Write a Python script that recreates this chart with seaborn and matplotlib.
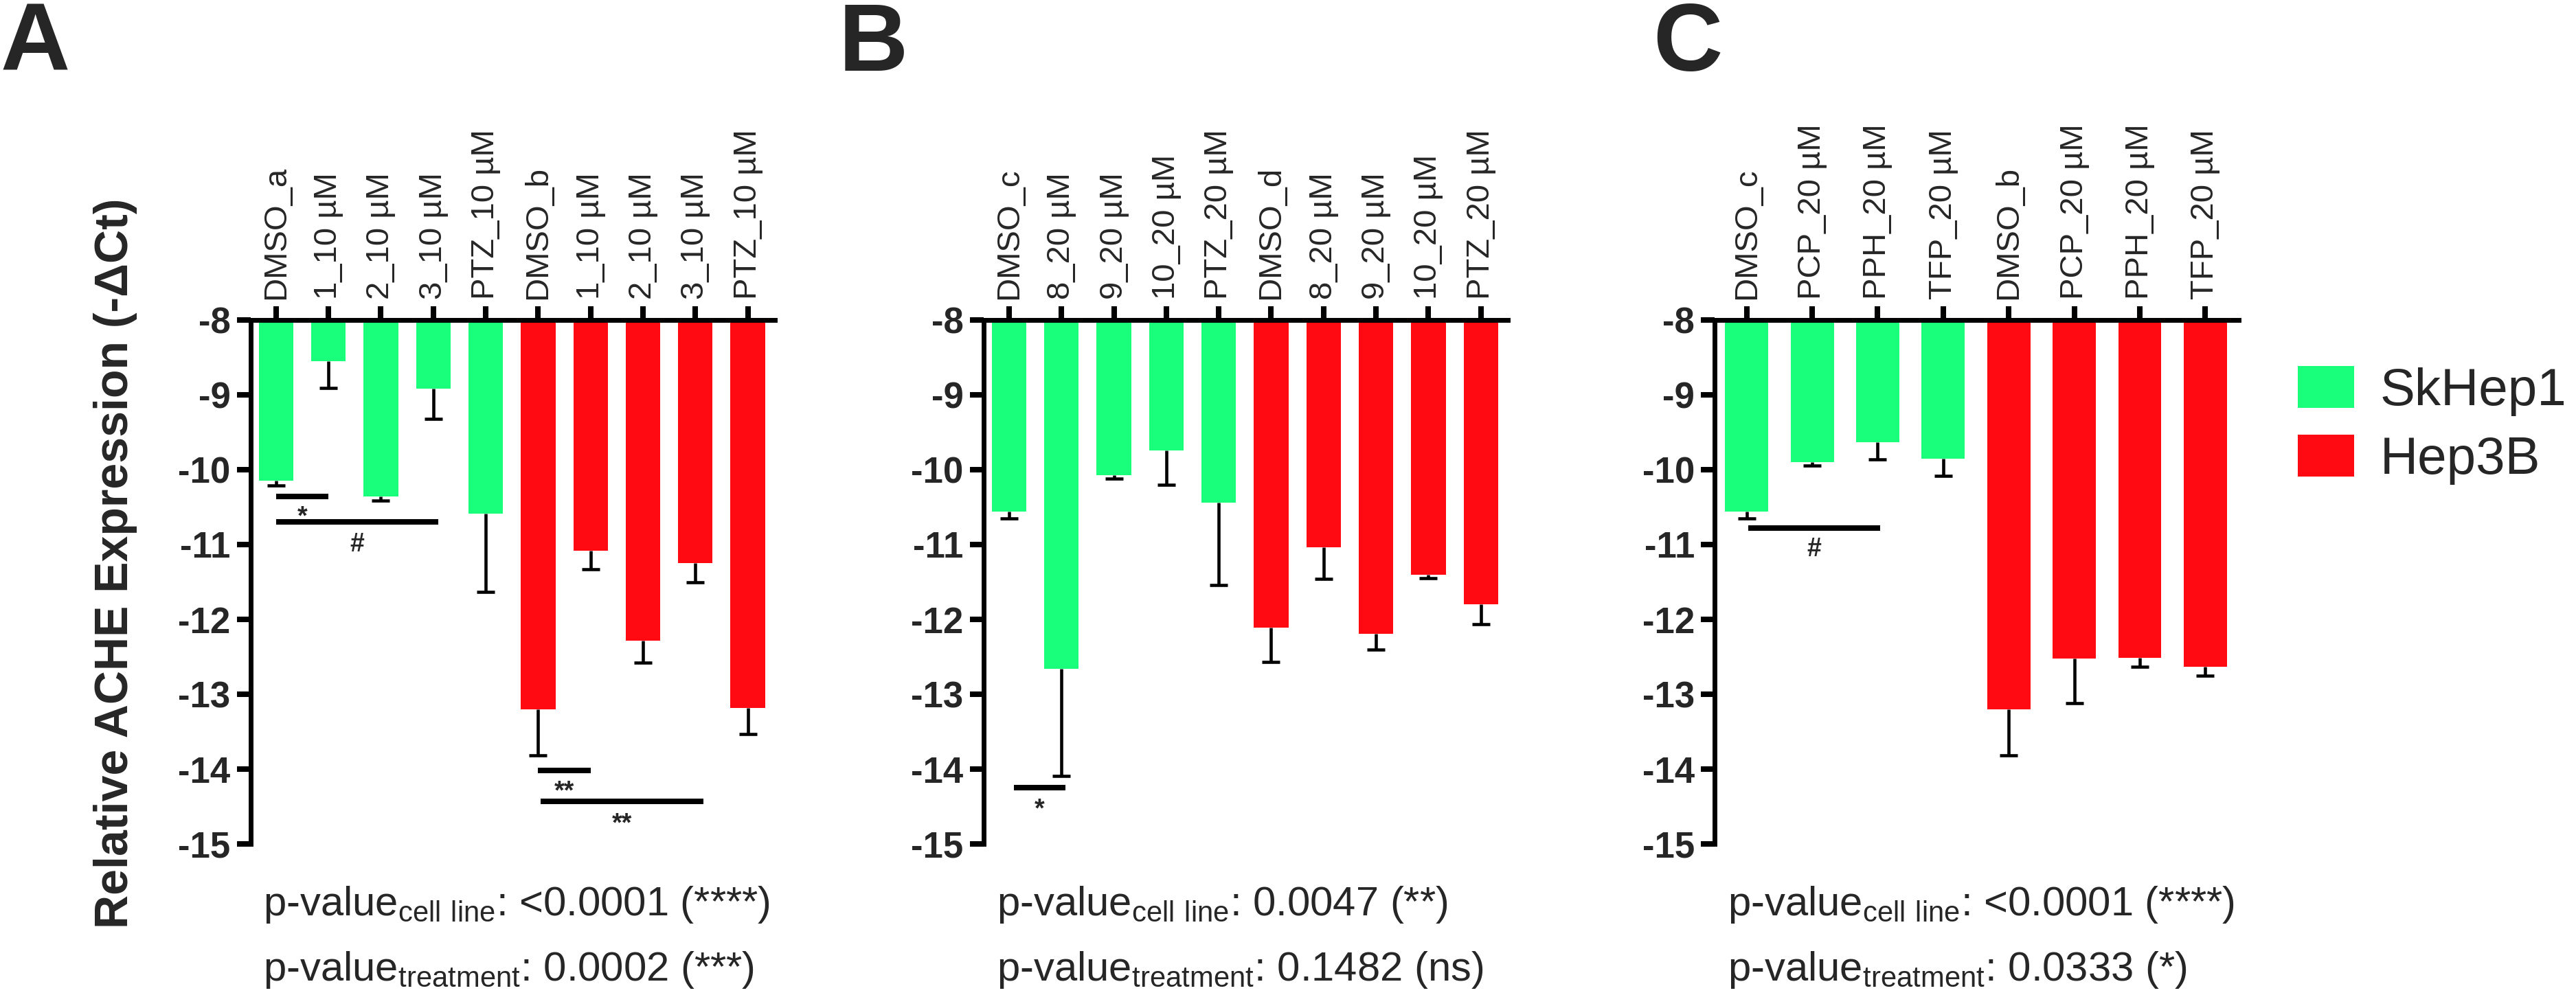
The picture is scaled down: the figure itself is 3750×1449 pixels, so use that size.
import pandas as pd
import matplotlib
matplotlib.use('Agg')
import matplotlib.pyplot as plt
from matplotlib.patches import Patch
import seaborn as sns

sns.set_theme(style='white')
plt.rcParams['font.family'] = ['Liberation Sans', 'DejaVu Sans']
plt.rcParams['mathtext.default'] = 'regular'

GREEN = '#1AFF7B'
RED = '#FF0A12'

# Panel A
labels_a = ['DMSO_a', '1_10 µM', '2_10 µM', '3_10 µM', 'PTZ_10 µM',
            'DMSO_b', '1_10 µM', '2_10 µM', '3_10 µM', 'PTZ_10 µM']
values_a = [-10.15, -8.55, -10.36, -8.92, -10.59, -13.20, -11.08, -12.28, -11.25, -13.18]
sem_a = [0.06, 0.36, 0.05, 0.40, 1.04, 0.62, 0.25, 0.30, 0.25, 0.35]
cells_a = ['SkHep1'] * 5 + ['Hep3B'] * 5

# Panel B
labels_b = ['DMSO_c', '8_20 µM', '9_20 µM', '10_20 µM', 'PTZ_20 µM',
            'DMSO_d', '8_20 µM', '9_20 µM', '10_20 µM', 'PTZ_20 µM']
values_b = [-10.56, -12.66, -10.07, -9.74, -10.44, -12.11, -11.04, -12.19, -11.40, -11.80]
sem_b = [0.09, 1.43, 0.05, 0.46, 1.10, 0.46, 0.42, 0.21, 0.05, 0.26]
cells_b = ['SkHep1'] * 5 + ['Hep3B'] * 5

# Panel C
labels_c = ['DMSO_c', 'PCP_20 µM', 'PPH_20 µM', 'TFP_20 µM',
            'DMSO_b', 'PCP_20 µM', 'PPH_20 µM', 'TFP_20 µM']
values_c = [-10.56, -9.90, -9.63, -9.85, -13.20, -12.52, -12.51, -12.63]
sem_c = [0.09, 0.045, 0.23, 0.23, 0.62, 0.60, 0.12, 0.12]
cells_c = ['SkHep1'] * 4 + ['Hep3B'] * 4

# significance bars: (from, to, level, mark, mark level)
sig_a = [(0, 1, -10.355, '*', -10.54), (0, 3.1, -10.70, '#', -10.97),
         (5, 6, -14.02, '**', -14.21), (5.05, 8.15, -14.43, '**', -14.64)]
sig_b = [(0.09, 1.08, -14.245, '*', -14.45)]
sig_c = [(0.02, 2.04, -10.78, '#', -11.04)]

# two-way ANOVA p-values
pval_a = ['<0.0001 (****)', '0.0002 (***)']
pval_b = ['0.0047 (**)', '0.1482 (ns)']
pval_c = ['<0.0001 (****)', '0.0333 (*)']

W, H = 3750, 1449
fig = plt.figure(figsize=(W / 100, H / 100), dpi=100)

# glyph centre above baseline, in data units (asterisks sit high in the font)
MARK_RAISE = {'*': 0.19, '#': 0.12}


def px_axes(left, top, width, height):
    return fig.add_axes([left / W, 1 - (top + height) / H, width / W, height / H])


def draw_panel(ax, labels, values, sems, cells, sig):
    n = len(labels)
    df = pd.DataFrame({'slot': range(n), 'value': values, 'sem': sems, 'cell': cells})
    sns.barplot(data=df, x='slot', y='value', hue='cell', order=list(range(n)),
                palette={'SkHep1': GREEN, 'Hep3B': RED}, dodge=False, width=0.66,
                saturation=1, errorbar=None, legend=False, linewidth=0, ax=ax)
    # only the lower half of the SEM bar
    _, caps, _ = ax.errorbar(df['slot'], df['value'], yerr=[df['sem'], [0] * n],
                             fmt='none', ecolor='black', elinewidth=3.3,
                             capsize=9.5, capthick=3.3, zorder=3)
    caps[1].set_visible(False)

    for x0, x1, y, mark, ty in sig:
        ax.plot([x0, x1], [y, y], color='black', lw=5.8, solid_capstyle='butt', zorder=4)
        ax.text((x0 + x1) / 2, ty - MARK_RAISE[mark[0]], mark, ha='center',
                va='baseline', fontsize=27, fontweight='bold')

    ax.set_xlim(-0.49, n - 0.49)
    ax.set_ylim(-15, -8)
    ax.set_yticks(range(-15, -7))
    ax.set_yticklabels([str(v) for v in range(-15, -7)], fontsize=38, fontweight='bold')
    ax.xaxis.tick_top()
    ax.set_xticks(range(n))
    ax.set_xticklabels(labels, rotation=90, fontsize=34)
    ax.tick_params(axis='x', which='both', top=True, bottom=False, direction='out',
                   length=14.4, width=5.8, pad=7, color='black')
    ax.tick_params(axis='y', left=True, direction='out', length=14.4, width=5.8,
                   pad=6.5, color='black')
    ax.set_xlabel('')
    ax.set_ylabel('')
    for side in ['right', 'bottom']:
        ax.spines[side].set_visible(False)
    for side in ['top', 'left']:
        ax.spines[side].set_visible(True)
        ax.spines[side].set_linewidth(5)
        ax.spines[side].set_color('black')
    ax.set_facecolor('white')


ax_a = px_axes(364.5, 466, 763, 763)
ax_b = px_axes(1431.6, 466, 763, 763)
ax_c = px_axes(2496, 466, 763, 763)
draw_panel(ax_a, labels_a, values_a, sem_a, cells_a, sig_a)
draw_panel(ax_b, labels_b, values_b, sem_b, cells_b, sig_b)
draw_panel(ax_c, labels_c, values_c, sem_c, cells_c, sig_c)

# panel letters
for x, letter in [(0, 'A'), (1221, 'B'), (2406, 'C')]:
    fig.text(x / W, 1 - 103 / H, letter, fontsize=101, fontweight='bold', va='baseline')

fig.text(168 / W, 1 - 820 / H, 'Relative ACHE Expression (-ΔCt)', rotation=90,
         fontsize=49, fontweight='bold', ha='center', va='center')

# p-values under each panel
for x, pv in [(383, pval_a), (1451, pval_b), (2515, pval_c)]:
    fig.text(x / W, 1 - 1333 / H, r'p-value$_{\mathregular{cell\ line}}$: ' + pv[0],
             fontsize=43, va='baseline')
    fig.text(x / W, 1 - 1428 / H, r'p-value$_{\mathregular{treatment}}$: ' + pv[1],
             fontsize=43, va='baseline')

handles = [Patch(facecolor=GREEN, edgecolor='none', label='SkHep1'),
           Patch(facecolor=RED, edgecolor='none', label='Hep3B')]
fig.legend(handles=handles, loc='upper left', bbox_to_anchor=(3345 / W, 1 - 533 / H),
           frameon=False, fontsize=55, handlelength=1.07, handleheight=0.86,
           handletextpad=0.5, labelspacing=0.35, borderpad=0, borderaxespad=0)

fig.savefig('out.png', dpi=100)
